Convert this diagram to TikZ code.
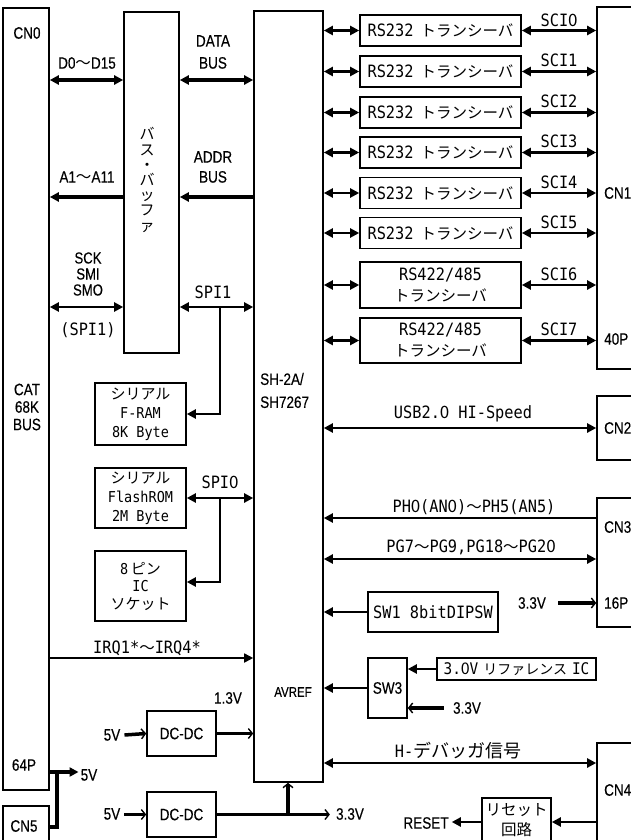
\documentclass[tikz,border=0pt]{standalone}
\usepackage{fontspec}
\setmainfont{Noto Sans CJK JP}
\newfontfamily\mono[FakeStretch=0.9]{DejaVu Sans Mono}
\newfontfamily\nar[FakeStretch=0.82,FakeBold=0.3]{Liberation Sans}
\usetikzlibrary{arrows.meta,calc}
\newcommand\wave{{\normalfont\fontsize{15.5}{17}\selectfont 〜}}
\newcommand\Z{\makebox[0.542em]{\normalfont 0}}
\newcommand\M[1]{{\mono\fontsize{17}{21}\selectfont #1}}
\newcommand\Ms[1]{{\mono\fontsize{15}{19}\selectfont #1}}
\newcommand\rstext{{\mono\fontsize{17}{17}\selectfont RS232}\hspace{7pt}{\fontsize{15.5}{17}\selectfont トランシーバ}}
\begin{document}
\begin{tikzpicture}[x=1pt,y=-1pt,
  box/.style={draw,line width=1.6pt,inner sep=0pt},
  nt/.style={inner sep=0pt,font=\nar\fontsize{16.5}{18}\selectfont},
  mt/.style={inner sep=0pt,font=\mono\fontsize{17}{19}\selectfont},
  jt/.style={inner sep=0pt,font=\fontsize{15.5}{19}\selectfont},
  thk/.style={line width=3.5pt},
  med/.style={line width=2.2pt},
  thn/.style={line width=1.7pt},
  toarr/.style={-{Triangle[length=9pt,width=9pt]}},
  dbl/.style={{Triangle[length=9pt,width=9pt]}-{Triangle[length=9pt,width=9pt]}},
  tobarb/.style={-{Straight Barb[length=4pt,width=10pt,line width=1.4pt]}},
]
\useasboundingbox (0,0) rectangle (631,840);
\clip (0,0) rectangle (631,840);

% ---------- boxes ----------
\node[box, minimum width=46pt, minimum height=782pt] (cn0) at (26,399) {};
\node[box, minimum width=46pt, minimum height=54pt] (cn5) at (26,833) {};
\node[box, minimum width=55pt, minimum height=341pt] (buf) at (151.5,182.5) {};
\node[box, minimum width=69pt, minimum height=771pt] (sh) at (288.5,396.5) {};

\node[box, minimum width=161pt, minimum height=31pt] (rs0) at (440.5,30.5) {\rstext};
\node[box, minimum width=161pt, minimum height=31pt] (rs1) at (440.5,71.5) {\rstext};
\node[box, minimum width=161pt, minimum height=31pt] (rs2) at (440.5,112.5) {\rstext};
\node[box, minimum width=161pt, minimum height=31pt] (rs3) at (440.5,152.5) {\rstext};
\node[box, minimum width=161pt, minimum height=31pt] (rs4) at (440.5,193) {\rstext};
\node[box, minimum width=161pt, minimum height=31pt] (rs5) at (440.5,233) {\rstext};
\node[box, minimum width=161pt, minimum height=46pt, align=center, font=\fontsize{15.5}{21}\selectfont] (rs6) at (440.5,285) {\M{RS422/485}\\トランシーバ};
\node[box, minimum width=161pt, minimum height=45pt, align=center, font=\fontsize{15.5}{21}\selectfont] (rs7) at (440.5,340.5) {\M{RS422/485}\\トランシーバ};

\node[box, minimum width=63pt, minimum height=362pt] (cn1) at (628.5,188) {};
\node[box, minimum width=63pt, minimum height=64pt] (cn2) at (628.5,428) {};
\node[box, minimum width=63pt, minimum height=129pt] (cn3) at (628.5,562.5) {};
\node[box, minimum width=63pt, minimum height=127pt] (cn4) at (628.5,806.5) {};

\node[box, minimum width=91pt, minimum height=62pt, align=center, font=\fontsize{15}{19}\selectfont] (fram) at (140.5,414) {シリアル\\\Ms{F-RAM}\\\Ms{8K Byte}};
\node[box, minimum width=91pt, minimum height=60pt, align=center, font=\fontsize{15}{19}\selectfont] (flash) at (140.5,498) {シリアル\\\Ms{FlashROM}\\\Ms{2M Byte}};
\node[box, minimum width=91pt, minimum height=70pt, align=center, font=\fontsize{15}{17.5}\selectfont] (pin8) at (140.5,586) {\Ms{8}\,ピン\\\Ms{IC}\\ソケット};

\node[box, minimum width=130pt, minimum height=40pt, font=\mono\fontsize{17}{19}\selectfont] (sw1) at (433,612) {SW1 8bitDIPSW};
\node[box, minimum width=39pt, minimum height=60pt, font=\nar\fontsize{16.5}{18}\selectfont] (sw3) at (387.5,688) {SW3};
\node[box, minimum width=159pt, minimum height=22pt] (refic) at (516.5,669) {{\mono\fontsize{16}{18}\selectfont 3.\Z V}\hspace{5pt}{\fontsize{14}{16}\selectfont リファレンス}\hspace{5pt}{\mono\fontsize{16}{18}\selectfont IC}};
\node[box, minimum width=69pt, minimum height=45pt, font=\nar\fontsize{16.5}{18}\selectfont] (dc1) at (181.5,733.5) {DC-DC};
\node[box, minimum width=69pt, minimum height=45pt, font=\nar\fontsize{16.5}{18}\selectfont] (dc2) at (181.5,814.5) {DC-DC};
\node[box, minimum width=69pt, minimum height=62pt] (rst) at (516.5,829) {};

% ---------- labels ----------
\node[nt] (tcn0) at (27,33) {CN0};
\node[nt, align=center, font=\nar\fontsize{16.5}{17.5}\selectfont] (tcat) at (27,407) {CAT\\68K\\BUS};
\node[nt] (t64) at (24,765) {64P};
\node[nt] (tcn5) at (24,826) {CN5};
\node[nt] (td0) at (87,63) {D0\wave D15};
\node[nt] (ta1) at (87,177) {A1\wave A11};
\node[nt, align=center, font=\nar\fontsize{16}{16}\selectfont] (tsck) at (88,274) {SCK\\SMI\\SMO};
\node[mt] (tspi1a) at (88,330) {(SPI1)};
\node[nt, align=center, font=\nar\fontsize{16.5}{22}\selectfont] (tdata) at (213,52) {DATA\\BUS};
\node[nt, align=center, font=\nar\fontsize{16.5}{20}\selectfont] (taddr) at (213,167) {ADDR\\BUS};
\node[mt] (tspi1) at (213,292) {SPI1};
\node[mt] (tspi0) at (220,482) {SPI\Z};
\node[nt, align=left, anchor=west, font=\nar\fontsize{16.5}{23}\selectfont] (tsh) at (260,390.5) {SH-2A/\\SH7267};
\node[nt, font=\nar\fontsize{14}{16}\selectfont] (tavref) at (293,692) {AVREF};
\node[jt, align=center, font=\fontsize{15}{15.2}\selectfont] (tbuf) at (147,180) {バ\\ス\\・\\バ\\ッ\\フ\\ァ};

\node[nt, anchor=west] (tcn1) at (604,193) {CN1};
\node[nt, anchor=west] (t40) at (604,339) {40P};
\node[nt, anchor=west] (tcn2) at (604,428) {CN2};
\node[nt, anchor=west] (tcn3) at (604,527) {CN3};
\node[nt, anchor=west] (t16) at (604,603) {16P};
\node[nt, anchor=west] (tcn4) at (604,790) {CN4};

\node[mt] (tusb) at (463,414) {USB2.\Z{} HI-Speed};
\node[mt] (tph) at (474,507) {PH\Z(AN\Z)\wave PH5(AN5)};
\node[mt] (tpg) at (471,547) {PG7\wave PG9,PG18\wave PG2\Z};
\node[mt] (tirq) at (147,648) {IRQ1*\wave IRQ4*};
\node[inner sep=0pt] (thdbg) at (458,751) {{\mono\fontsize{17}{19}\selectfont H-}{\fontsize{18}{20}\selectfont デバッガ信号}};
\node[jt, align=center, font=\fontsize{15.5}{20}\selectfont] (trst) at (516.5,820) {リセット\\回路};
\node[nt] (reset) at (426,823) {RESET};

\node[nt] (v33a) at (532,603) {3.3V};
\node[nt] (v33b) at (467,708) {3.3V};
\node[nt] (v33c) at (350,814) {3.3V};
\node[nt] (v5a) at (112,735) {5V};
\node[nt] (v5b) at (112,814) {5V};
\node[nt] (v5c) at (89,775) {5V};
\node[nt] (v13) at (228,698) {1.3V};

% ---------- connectors ----------
\draw[thk, dbl] (cn0.east |- 0,80) -- (buf.west |- 0,80);
\draw[thk, dbl] (buf.east |- 0,80) -- (sh.west |- 0,80);
\draw[thk, toarr] (buf.west |- 0,197) -- (cn0.east |- 0,197);
\draw[thk, toarr] (sh.west |- 0,197) -- (buf.east |- 0,197);
\draw[med, dbl] (cn0.east |- 0,307) -- (buf.west |- 0,307);
\draw[med, dbl] (buf.east |- 0,307) -- (sh.west |- 0,307);
\coordinate (j1) at (220,307);
\draw[med, toarr] (j1) |- (fram.east);
\draw[med, dbl] (flash.east) -- (sh.west |- flash.east);
\coordinate (j2) at (220,498);
\draw[med, toarr] (j2) |- (pin8.east |- 0,582);

\foreach \i in {0,...,7}{
  \draw[med, dbl] (sh.east |- rs\i.west) -- (rs\i.west);
  \draw[med, dbl] (rs\i.east) -- (cn1.west |- rs\i.east);
}
\node[mt] (sci0) at (559,20) {SCI\Z};
\node[mt] (sci1) at (559,60) {SCI1};
\node[mt] (sci2) at (559,101) {SCI2};
\node[mt] (sci3) at (559,141) {SCI3};
\node[mt] (sci4) at (559,182) {SCI4};
\node[mt] (sci5) at (559,222) {SCI5};
\node[mt] (sci6) at (559,274) {SCI6};
\node[mt] (sci7) at (559,329) {SCI7};

\draw[med, dbl] (sh.east |- cn2.west) -- (cn2.west);
\draw[med, toarr] (cn3.west |- 0,518) -- (sh.east |- 0,518);
\draw[med, dbl] (sh.east |- 0,559) -- (cn3.west |- 0,559);
\draw[med, toarr] (sw1.west) -- (sh.east |- sw1.west);
\draw[thk, tobarb] ([xshift=12pt]v33a.east) -- (cn3.west |- v33a.east);
\draw[med, toarr] (refic.west) -- (sw3.east |- refic.west);
\draw[thk, tobarb] ([xshift=-9pt]v33b.west) -- (sw3.east |- v33b.west);
\draw[med, toarr] (sw3.west) -- (sh.east |- sw3.west);
\draw[med, dbl] (sh.east |- 0,763) -- (cn4.west |- 0,763);
\draw[med, toarr] (cn4.west |- 0,822) -- (rst.east |- 0,822);
\draw[med, toarr] (rst.west |- 0,822) -- ([xshift=3pt]reset.east |- 0,822);

\draw[thn, toarr] (cn0.east |- 0,658) -- (sh.west |- 0,658);
\draw[thk, tobarb] ([xshift=4pt]v5a.east) -- (dc1.west);
\draw[thk, tobarb] (dc1.east) -- (sh.west |- dc1.east);
\draw[thk, tobarb] ([xshift=4pt]v5b.east |- dc2.west) -- (dc2.west);
\draw[thk, tobarb] (dc2.east) -- ([xshift=-6pt]v33c.west |- dc2.east);
\draw[thk, tobarb] (dc2.east -| 288,0) -- (sh.south -| 288,0);
\coordinate (j4) at (57,772);
\draw[thk] (cn5.east |- 0,827) -| (j4);
\draw[thk, toarr] (cn0.east |- j4) -- ([xshift=-2pt]v5c.west |- j4);
\end{tikzpicture}
\end{document}
